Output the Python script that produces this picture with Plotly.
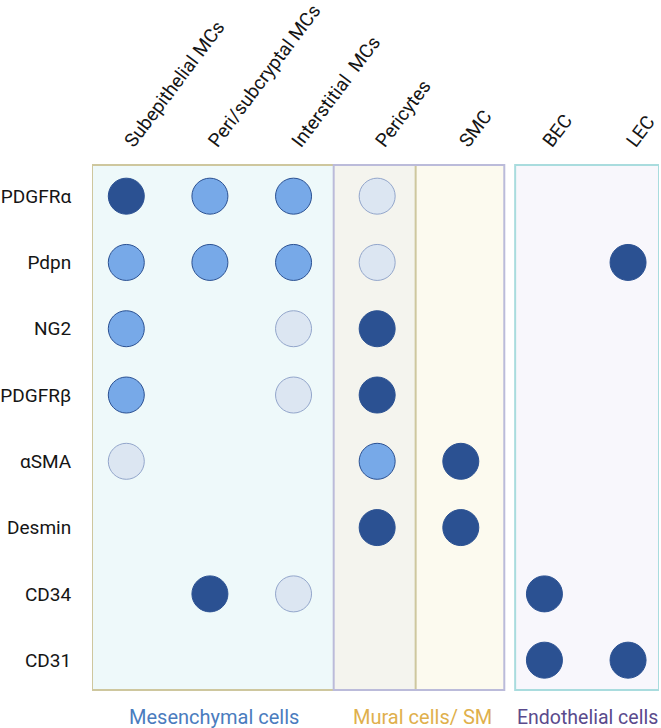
import plotly.graph_objects as go

cell_types = ["Subepithelial MCs", "Peri/subcryptal MCs", "Interstitial  MCs",
              "Pericytes", "SMC", "BEC", "LEC"]
markers = ["PDGFRα", "Pdpn", "NG2", "PDGFRβ", "αSMA", "Desmin", "CD34", "CD31"]
# expression level: 0 none, 1 low, 2 medium, 3 high
levels = [
    [3, 2, 2, 1, 0, 0, 0],  # PDGFRα
    [2, 2, 2, 1, 0, 0, 3],  # Pdpn
    [2, 0, 1, 3, 0, 0, 0],  # NG2
    [2, 0, 1, 3, 0, 0, 0],  # PDGFRβ
    [1, 0, 0, 2, 3, 0, 0],  # αSMA
    [0, 0, 0, 3, 3, 0, 0],  # Desmin
    [0, 3, 1, 0, 0, 3, 0],  # CD34
    [0, 0, 0, 0, 0, 3, 3],  # CD31
]
group_labels = ["Mesenchymal cells", "Mural cells/ SM", "Endothelial cells"]

FONT = "Roboto"
level_style = {
    1: dict(color="#DCE6F2", line="#93A6CB"),
    2: dict(color="#77A9E8", line="#2B5192"),
    3: dict(color="#2B5192", line="#2B5192"),
}

fig = go.Figure()
for lv in (1, 2, 3):
    xs, ys = [], []
    for i, m in enumerate(markers):
        for j, c in enumerate(cell_types):
            if levels[i][j] == lv:
                xs.append(c)
                ys.append(m)
    st = level_style[lv]
    fig.add_trace(go.Scatter(
        x=xs, y=ys, mode="markers", showlegend=False, hoverinfo="x+y",
        marker=dict(size=36, color=st["color"], line=dict(color=st["line"], width=1)),
    ))

# group boxes (in category-index coordinates)
shapes = [
    dict(type="rect", xref="x", yref="paper", x0=-0.41, x1=3.46, y0=0, y1=1,
         fillcolor="#EEF9FA", line=dict(width=0), layer="below"),
    dict(type="rect", xref="x", yref="paper", x0=2.48, x1=4.52, y0=0, y1=1,
         fillcolor="#FCFAEF", line=dict(width=0), layer="below"),
    dict(type="rect", xref="x", yref="paper", x0=2.48, x1=3.46, y0=0, y1=1,
         fillcolor="#F4F4EE", line=dict(width=0), layer="below"),
    dict(type="rect", xref="x", yref="paper", x0=4.65, x1=6.37, y0=0, y1=1,
         fillcolor="#F8F7FC", line=dict(color="#A9DCDE", width=2), layer="below"),
    dict(type="rect", xref="x", yref="paper", x0=-0.41, x1=3.46, y0=0, y1=1,
         fillcolor="rgba(0,0,0,0)", line=dict(color="#CEC79E", width=2), layer="below"),
    dict(type="rect", xref="x", yref="paper", x0=2.48, x1=4.52, y0=0, y1=1,
         fillcolor="rgba(0,0,0,0)", line=dict(color="#BBBBDA", width=2), layer="below"),
]

ann_y = -0.052
annotations = [
    dict(text=group_labels[0], x=1.05, xref="x", y=ann_y, yref="paper",
         showarrow=False, yanchor="middle", font=dict(family=FONT, size=20, color="#4A7CBE")),
    dict(text=group_labels[1], x=3.54, xref="x", y=ann_y, yref="paper",
         showarrow=False, yanchor="middle", font=dict(family=FONT, size=20, color="#E0B04C")),
    dict(text=group_labels[2], x=5.52, xref="x", y=ann_y, yref="paper",
         showarrow=False, yanchor="middle", font=dict(family=FONT, size=19.5, color="#5A4A8C")),
]

fig.update_layout(
    width=661, height=728,
    margin=dict(l=92, r=2, t=165, b=38, autoexpand=False),
    paper_bgcolor="white", plot_bgcolor="white",
    shapes=shapes, annotations=annotations,
    font=dict(family=FONT, size=19, color="#151515"),
    xaxis=dict(type="category", categoryorder="array", categoryarray=cell_types,
               range=[-0.41, 6.37], side="top", tickangle=-53, automargin=False,
               showgrid=False, zeroline=False, showline=False,
               ticks="outside", ticklen=4, tickcolor="rgba(0,0,0,0)",
               tickfont=dict(family=FONT, size=19, color="#151515"), fixedrange=True),
    yaxis=dict(type="category", categoryorder="array", categoryarray=markers,
               range=[7.45, -0.47], showgrid=False, zeroline=False, showline=False,
               ticks="outside", ticklen=16, tickcolor="rgba(0,0,0,0)", automargin=False,
               tickfont=dict(family=FONT, size=19, color="#151515"), fixedrange=True),
)

fig.write_html("out.html", config={"displayModeBar": False},
               post_script="document.body.style.margin='0';document.body.style.overflow='hidden';")
